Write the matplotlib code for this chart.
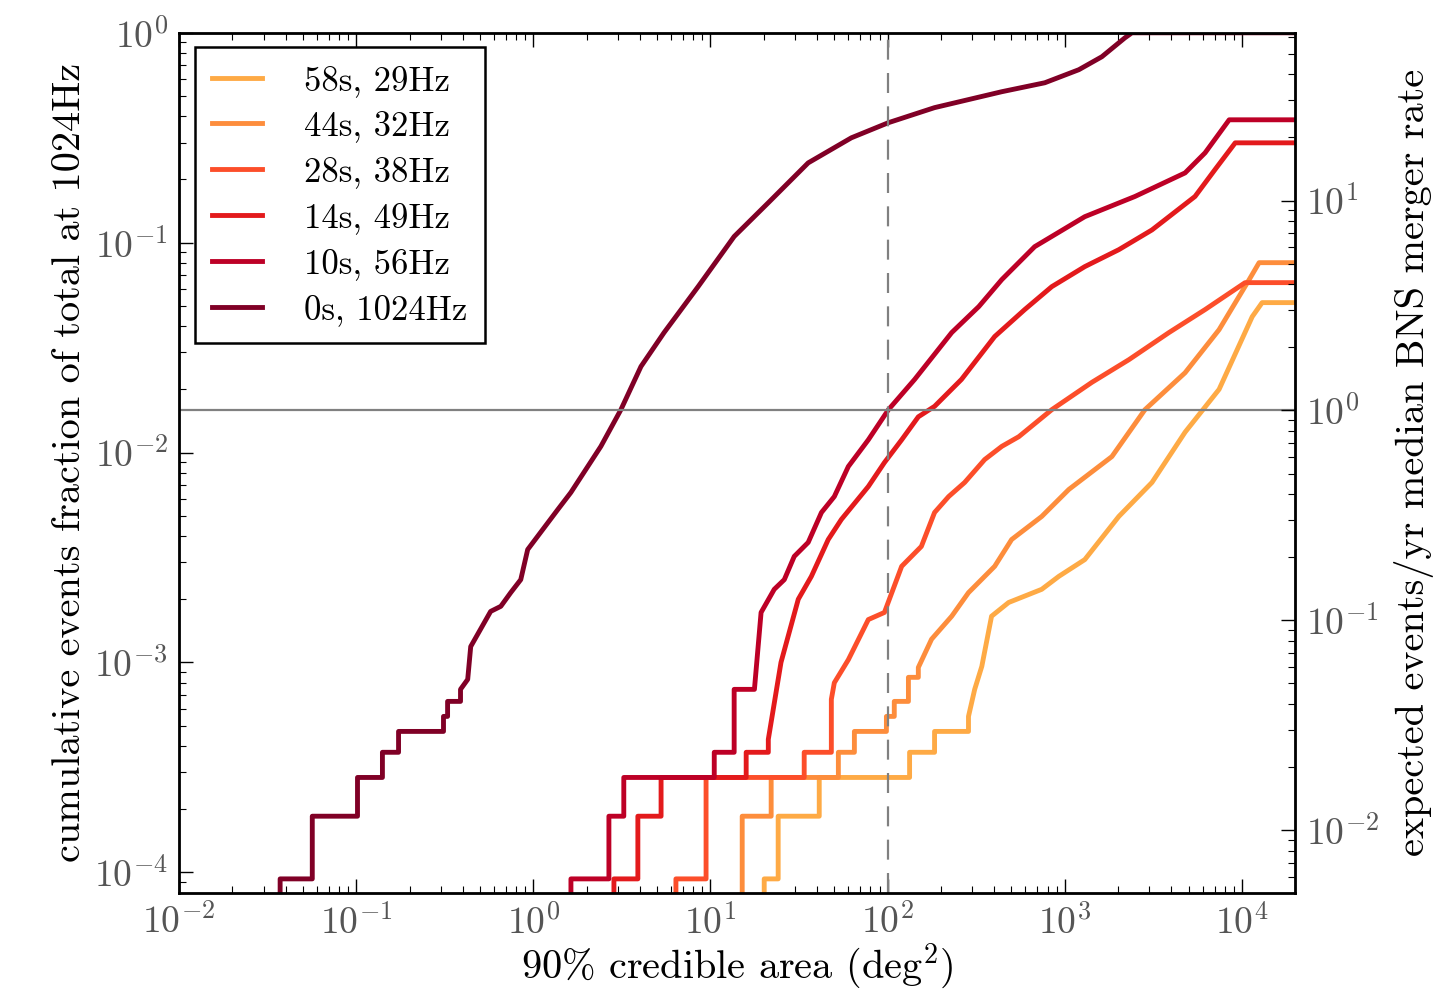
import matplotlib
matplotlib.use('Agg')
import matplotlib.pyplot as plt

plt.rcParams['font.family'] = 'serif'
plt.rcParams['font.serif'] = ['cmr10', 'DejaVu Serif']
plt.rcParams['mathtext.fontset'] = 'cm'
plt.rcParams['axes.formatter.use_mathtext'] = True

labels = ['58s, 29Hz', '44s, 32Hz', '28s, 38Hz', '14s, 49Hz', '10s, 56Hz', '0s, 1024Hz']
colors = ['#feaa45', '#fd8d3c', '#fc4e2a', '#e31a1c', '#bd0026', '#800026']

y_floor = 5e-5        # curves enter from below the axis
rate_scale = 63.0     # events/yr for the full 1024Hz total
x_cut = 100.0

area_58 = [20.1, 20.1, 24.1, 24.1, 41.1, 41.1, 133, 133, 184, 184, 286, 286, 310, 340,
           386, 482, 741, 925, 1297, 2018, 3105, 4775, 7430, 11430, 13000, 20000]
frac_58 = [y_floor, 9.3e-5, 9.3e-5, 1.85e-4, 1.85e-4, 2.83e-4, 2.83e-4, 3.73e-4, 3.73e-4,
           4.69e-4, 4.69e-4, 5.53e-4, 7.44e-4, 9.57e-4, 1.66e-3, 1.93e-3, 2.23e-3, 2.57e-3,
           3.09e-3, 4.96e-3, 7.2e-3, 1.25e-2, 2.0e-2, 4.44e-2, 0.0518, 0.0518]

area_44 = [15.1, 15.1, 15.1, 15.1, 22.0, 22.0, 52.7, 52.7, 64.9, 64.9, 98.4, 98.4, 109, 109,
           131, 131, 149, 149, 177, 230, 286, 402, 501, 741, 1054, 1845, 2833, 4775, 7430,
           10990, 12500, 20000]
frac_44 = [y_floor, 9.3e-5, 9.3e-5, 1.85e-4, 1.85e-4, 2.83e-4, 2.83e-4, 3.73e-4, 3.73e-4,
           4.69e-4, 4.69e-4, 5.53e-4, 5.53e-4, 6.52e-4, 6.52e-4, 8.49e-4, 8.49e-4, 9.46e-4,
           1.29e-3, 1.66e-3, 2.15e-3, 2.87e-3, 3.85e-3, 4.96e-3, 6.67e-3, 9.57e-3, 1.6e-2,
           2.4e-2, 3.85e-2, 6.67e-2, 0.0803, 0.0803]

area_28 = [6.38, 6.38, 9.44, 9.44, 33.8, 33.8, 48.1, 48.1, 50.0, 60.0, 77.8, 95.9, 120, 155,
           184, 221, 272, 353, 441, 550, 844, 1422, 2301, 3873, 6194, 10420, 20000]
frac_28 = [y_floor, 9.3e-5, 9.3e-5, 2.83e-4, 2.83e-4, 3.73e-4, 3.73e-4, 6.67e-4, 8.0e-4,
           1.03e-3, 1.6e-3, 1.73e-3, 2.87e-3, 3.57e-3, 5.18e-3, 6.17e-3, 7.2e-3, 9.26e-3,
           1.07e-2, 1.19e-2, 1.6e-2, 2.16e-2, 2.77e-2, 3.73e-2, 4.8e-2, 0.0645, 0.0645]

area_14 = [2.85, 2.85, 3.89, 3.89, 5.26, 5.26, 15.9, 15.9, 21.2, 21.2, 25.0, 31.3, 37.1, 46.2,
           54.8, 77.8, 95.9, 120, 149, 184, 261, 402, 594, 844, 1297, 2018, 3105, 5433,
           7047, 9162, 20000]
frac_14 = [y_floor, 9.3e-5, 9.3e-5, 1.85e-4, 1.85e-4, 2.83e-4, 2.83e-4, 3.73e-4, 3.73e-4,
           4.3e-4, 1.0e-3, 2.0e-3, 2.57e-3, 3.85e-3, 4.8e-3, 6.89e-3, 8.96e-3, 1.15e-2,
           1.48e-2, 1.66e-2, 2.23e-2, 3.57e-2, 4.8e-2, 6.17e-2, 7.69e-2, 9.26e-2, 0.115,
           0.166, 0.223, 0.299, 0.299]

area_10 = [1.63, 1.63, 2.67, 2.67, 3.24, 3.24, 10.5, 10.5, 13.6, 13.6, 17.7, 19.3, 22.9, 26.1,
           29.7, 35.6, 42.3, 50.0, 60.0, 77.8, 101, 142, 230, 327, 441, 676, 1297, 2489,
           4775, 6194, 8472, 20000]
frac_10 = [y_floor, 9.3e-5, 9.3e-5, 1.85e-4, 1.85e-4, 2.83e-4, 2.83e-4, 3.73e-4, 3.73e-4,
           7.44e-4, 7.44e-4, 1.73e-3, 2.23e-3, 2.48e-3, 3.2e-3, 3.73e-3, 5.18e-3, 6.17e-3,
           8.58e-3, 1.15e-2, 1.6e-2, 2.23e-2, 3.73e-2, 4.96e-2, 6.67e-2, 9.57e-2, 0.133,
           0.166, 0.215, 0.268, 0.385, 0.385]

area_0 = [0.0372, 0.0372, 0.0565, 0.0565, 0.1017, 0.1017, 0.1406, 0.1406, 0.1734, 0.1734,
          0.311, 0.311, 0.328, 0.328, 0.388, 0.388, 0.426, 0.443, 0.574, 0.655, 0.745, 0.849,
          0.929, 1.374, 1.628, 2.405, 3.12, 4.05, 5.47, 8.51, 13.6, 21.2, 35.6, 62.4, 101,
          184, 441, 771, 1200, 1619, 2183, 2393, 20000]
frac_0 = [y_floor, 9.3e-5, 9.3e-5, 1.85e-4, 1.85e-4, 2.83e-4, 2.83e-4, 3.73e-4, 3.73e-4,
          4.69e-4, 4.69e-4, 5.53e-4, 5.53e-4, 6.52e-4, 6.52e-4, 7.44e-4, 8.3e-4, 1.19e-3,
          1.75e-3, 1.85e-3, 2.15e-3, 2.48e-3, 3.45e-3, 5.35e-3, 6.45e-3, 1.07e-2, 1.6e-2,
          2.57e-2, 3.73e-2, 6.17e-2, 0.107, 0.155, 0.24, 0.316, 0.373, 0.44, 0.524, 0.578,
          0.667, 0.769, 0.946, 1.0, 1.0]

areas = [area_58, area_44, area_28, area_14, area_10, area_0]
fracs = [frac_58, frac_44, frac_28, frac_14, frac_10, frac_0]

fig = plt.figure(figsize=(14.44, 9.94), dpi=100)
ax = fig.add_axes([0.124, 0.102, 0.773, 0.865])

for ii in range(len(labels)):
    ax.plot(areas[ii], fracs[ii], color=colors[ii], label=labels[ii], linewidth=3.5)

ax.set_xscale('log')
ax.set_yscale('log')
ax.set_xlim(1e-2, 2e4)
ax.set_ylim(8e-5, 1)

ax.axvline(x_cut, color='gray', linestyle=(0, (9, 6)), linewidth=1.6)
ax.axhline(1.0 / rate_scale, color='gray', linewidth=1.6)

ax.set_xlabel('90% credible area (deg$^2$)', fontsize=29, labelpad=0)
ax.set_ylabel('cumulative events fraction of total at 1024Hz', fontsize=29, labelpad=4)

ax.tick_params(which='both', direction='in', top=True, labelsize=27, labelcolor='#555555', pad=8)
ax.tick_params(which='major', length=10, width=1)
ax.tick_params(which='minor', length=5, width=0.8)
for sp in ax.spines.values():
    sp.set_linewidth(2)

ax2 = ax.twinx()
ax2.set_yscale('log')
ax2.set_ylim(8e-5 * rate_scale, 1 * rate_scale)
ax2.set_ylabel('expected events/yr median BNS merger rate', fontsize=29, labelpad=10)
ax2.tick_params(which='both', direction='in', labelsize=27, labelcolor='#555555', pad=8)
ax2.tick_params(which='major', length=10, width=1)
ax2.tick_params(which='minor', length=5, width=0.8)

leg = ax.legend(loc='upper left', fontsize=25, fancybox=False, edgecolor='black',
                handlelength=1.45, borderpad=0.5, labelspacing=0.4, handletextpad=1.2,
                borderaxespad=0, bbox_to_anchor=(0.014, 0.983), framealpha=1)
leg.get_frame().set_linewidth(1.8)

fig.savefig('out.png', dpi=100)
